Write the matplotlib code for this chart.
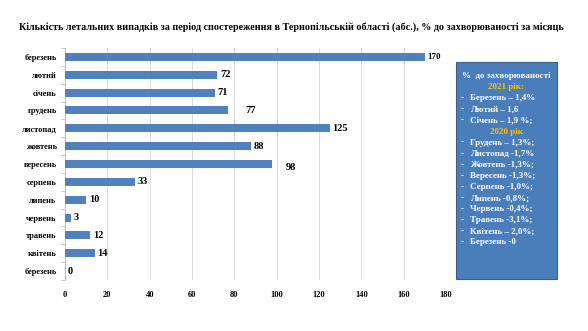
import matplotlib
matplotlib.use("Agg")
import matplotlib.pyplot as plt
import matplotlib.patches as mpatches
import numpy as np

categories = ["березень", "лютий", "січень", "грудень", "листопад", "жовтень",
              "вересень", "серпень", "липень", "червень", "травень", "квітень", "березень"]
values = [170, 72, 71, 77, 125, 88, 98, 33, 10, 3, 12, 14, 0]
xticks = [0, 20, 40, 60, 80, 100, 120, 140, 160, 180]

title = "Кількість летальних випадків за період спостереження в Тернопільській області (абс.), % до захворюваності за місяць"
box_header = "%  до захворюваності"
year2021 = "2021 рік:"
items2021 = ["Березень – 1,4%", "Лютий – 1,6", "Січень – 1,9 %;"]
year2020 = "2020 рік"
items2020 = ["Грудень – 1,3%;", "Листопад -1,7%", "Жовтень -1,3%;", "Вересень -1,3%;",
             "Серпень -1,0%;", "Липень -0,8%;", "Червень -0,4%;", "Травень -3,1%;",
             "Квітень – 2,0%;", "Березень -0"]

serif = ["Liberation Serif", "DejaVu Serif"]
bar_color = "#4F81BD"

fig = plt.figure(figsize=(5.88, 3.31), dpi=100)
fig.patch.set_facecolor("white")
ax = fig.add_axes([65/588, 1-280/331, (446-65)/588, (280-48)/331])

y = np.arange(len(categories))
ax.barh(y, values, height=0.45, color=bar_color, zorder=3)
ax.set_ylim(len(categories) - 0.5, -0.5)
ax.set_xlim(0, 180)
ax.set_xticks(xticks)
ax.set_xticklabels([str(t) for t in xticks], fontfamily=serif, fontweight="bold", fontsize=6)
ax.set_yticks(y)
ax.set_yticklabels(categories, fontfamily=serif, fontweight="bold", fontsize=6)
ax.tick_params(axis="x", length=0, pad=8)
ax.tick_params(axis="y", length=0, pad=6)
ax.set_yticks(np.arange(len(categories) + 1) - 0.5, minor=True)
ax.tick_params(axis="y", which="minor", length=3, color="#BFBFBF", width=0.6)
ax.grid(axis="x", color="#D9D9D9", linewidth=0.7, zorder=0)
for s in ["top", "right", "bottom"]:
    ax.spines[s].set_visible(False)
ax.spines["left"].set_color("#BFBFBF")
ax.spines["left"].set_linewidth(0.7)

# data labels
label_dx = {3: 7, 6: 5}
label_dy = {6: 0.2}
for i, v in enumerate(values):
    ax.text(v + 1.2 + label_dx.get(i, 0), i + label_dy.get(i, 0), str(v),
            va="center", ha="left", fontfamily=serif, fontweight="bold",
            fontsize=7.5 if i != 0 else 6.5, color="black", zorder=4)

fig.text(0.495, 1-27/331, title, ha="center", va="center",
         fontfamily=serif, fontweight="bold", fontsize=7.3)

# info box
bx0, by0, bx1, by1 = 456, 62, 557, 279
rect = mpatches.Rectangle((bx0/588, 1-by1/331), (bx1-bx0)/588, (by1-by0)/331,
                          transform=fig.transFigure, facecolor="#4A7EBB",
                          edgecolor="#385D8A", linewidth=0.8)
fig.patches.append(rect)

line_y0 = 76
step = 11.1
cx = (bx0 + bx1) / 2 / 588
lines = [("c", box_header, "white")]
lines.append(("c", year2021, "#FFC000"))
lines += [("b", t, "white") for t in items2021]
lines.append(("c", year2020, "#FFC000"))
lines += [("b", t, "white") for t in items2020]
for k, (kind, txt, col) in enumerate(lines):
    yy = 1 - (line_y0 + k * step) / 331
    if kind == "c":
        fig.text(cx, yy, txt, ha="center", va="center", color=col,
                 fontfamily=serif, fontweight="bold", fontsize=6.5)
    else:
        fig.text(461/588, yy, "-", ha="left", va="center", color=col,
                 fontfamily=serif, fontweight="bold", fontsize=6.5)
        fig.text(470/588, yy, txt, ha="left", va="center", color=col,
                 fontfamily=serif, fontweight="bold", fontsize=6.5)

fig.savefig("out.png", dpi=100, facecolor="white")
